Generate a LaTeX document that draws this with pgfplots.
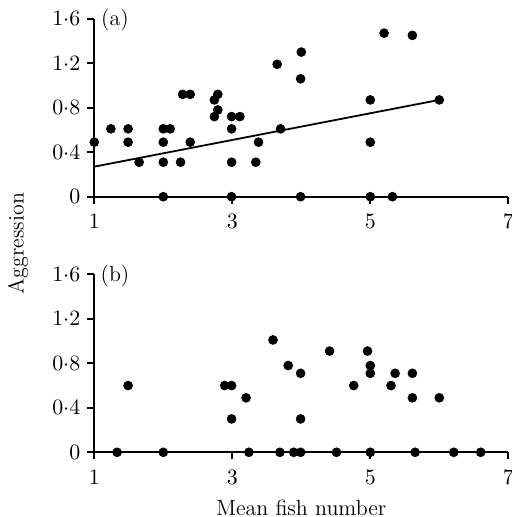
\documentclass[border=0pt]{standalone}
\usepackage{fontspec}
\usepackage{pgfplots}
\pgfplotsset{compat=1.18}

\pgfplotsset{
  fishpanel/.style={
    scale only axis,
    width=207pt, height=89pt,
    axis lines=left,
    axis line style={-, line width=0.9pt},
    xmin=1, xmax=7, ymin=0, ymax=1.6,
    xtick={1,3,5,7},
    ytick={0,0.4,0.8,1.2,1.6},
    yticklabels={$0$,$0{\cdot}4$,$0{\cdot}8$,$1{\cdot}2$,$1{\cdot}6$},
    tick align=outside,
    major tick length=3.5pt,
    tick style={black, line width=0.9pt},
    xticklabel style={yshift=-2pt},
    clip=false,
    anchor=south west,
  },
  dots/.style={only marks, mark=*, mark size=2.2pt, black},
}

\begin{document}
\begin{tikzpicture}[font=\fontsize{11}{13}\selectfont]

% (a) all fish
\begin{axis}[fishpanel, at={(47.15pt,-98.35pt)}]
\addplot[dots] table {
1.00 0.49
1.24 0.61
1.49 0.61
1.49 0.49
1.65 0.31
2.00 0.61
2.10 0.61
2.00 0.49
2.00 0.31
2.00 0.00
2.25 0.31
2.28 0.92
2.39 0.92
2.39 0.49
2.74 0.87
2.79 0.92
2.79 0.78
2.74 0.72
2.99 0.72
3.11 0.72
2.99 0.61
2.99 0.31
2.99 0.00
3.34 0.31
3.38 0.49
3.65 1.19
4.00 1.30
3.99 1.06
3.70 0.61
3.99 0.00
5.00 0.87
5.00 0.49
5.00 0.00
5.32 0.00
5.20 1.47
5.61 1.45
6.00 0.87
};
% fitted line
\addplot[black, line width=0.9pt] coordinates {(1.0,0.27) (6.0,0.87)};
\end{axis}

% (b)
\begin{axis}[fishpanel, at={(47.15pt,-226.15pt)}]
\addplot[dots] table {
1.49 0.60
1.33 0.00
2.00 0.00
2.89 0.60
2.99 0.60
2.99 0.30
3.20 0.49
3.24 0.00
3.59 1.01
3.81 0.78
3.99 0.71
3.99 0.30
3.69 0.00
3.89 0.00
3.99 0.00
4.41 0.91
4.51 0.00
4.76 0.60
4.96 0.91
5.00 0.78
5.00 0.71
5.00 0.00
5.30 0.60
5.36 0.71
5.61 0.71
5.61 0.49
5.65 0.00
6.00 0.49
6.21 0.00
6.60 0.00
};
\end{axis}

\node at (57.5pt,-10pt) {(a)};
\node at (57.5pt,-138pt) {(b)};
\node[rotate=90] at (9pt,-121.75pt) {Aggression};
\node at (150.65pt,-254pt) {Mean fish number};

\pgfresetboundingbox
\path[use as bounding box] (0pt,0pt) rectangle (255.5pt,-258.5pt);
\end{tikzpicture}
\end{document}
